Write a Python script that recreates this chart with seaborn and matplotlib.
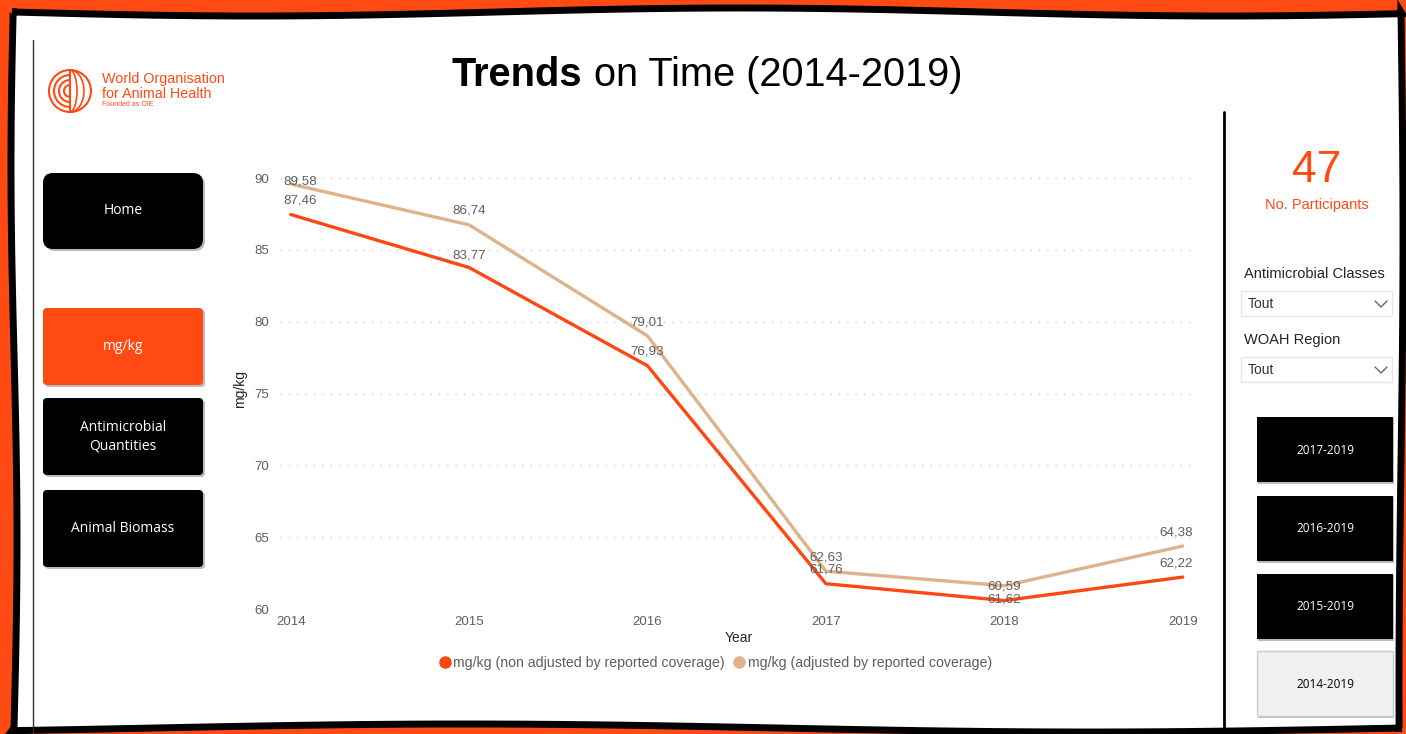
import numpy as np
import pandas as pd
import matplotlib.pyplot as plt
from matplotlib.patches import FancyBboxPatch, Circle, Arc, Polygon, Rectangle
from matplotlib.lines import Line2D
import seaborn as sns

years = [2014, 2015, 2016, 2017, 2018, 2019]
non_adjusted = [87.46, 83.77, 76.93, 61.76, 60.59, 62.22]
adjusted = [89.58, 86.74, 79.01, 62.63, 61.62, 64.38]
series_names = ['mg/kg (non adjusted by reported coverage)',
                'mg/kg (adjusted by reported coverage)']
participants = 47
left_buttons = ['Home', 'mg/kg', 'Antimicrobial\nQuantities', 'Animal Biomass']
right_buttons = ['2017-2019', '2016-2019', '2015-2019', '2014-2019']

RED = '#FF4713'
TAN = '#DDB38A'
ORANGE = '#FF4A14'
GREY = '#605E5C'

sns.set_theme(style='white')
plt.rcParams['font.family'] = ['Liberation Sans', 'DejaVu Sans']

df = pd.DataFrame({
    'Year': years * 2,
    'mg/kg': non_adjusted + adjusted,
    'series': [series_names[0]] * 6 + [series_names[1]] * 6,
})

fig = plt.figure(figsize=(14.06, 7.34), dpi=100)
fig.patch.set_facecolor(ORANGE)

# background layer in pixel coordinates
bg = fig.add_axes([0, 0, 1, 1], zorder=0)
bg.set_xlim(0, 1406)
bg.set_ylim(734, 0)
bg.axis('off')

# wavy white panel
t = np.linspace(0, 1, 120)
top = np.c_[12 + t * 1390, 12 + 4 * np.sin(t * 9)]
right = np.c_[1401 + 2 * np.sin(t * 5), 12 + t * 716]
bottom = np.c_[1402 - t * 1390, 728 + 4 * np.sin(t * 7)]
left = np.c_[14 + 3 * np.sin(t * 6), 728 - t * 716]
bg.add_patch(Polygon(np.vstack([top, right, bottom, left]), closed=True,
                     facecolor='white', edgecolor='black', lw=5, zorder=1))

bg.plot([33, 33], [40, 734], color='#333333', lw=1, zorder=2)
bg.plot([1224, 1224], [112, 734], color='black', lw=2, zorder=2)

# logo
bg.add_patch(Circle((70, 91), 21, fill=False, ec=ORANGE, lw=1.5, zorder=2))
for r in [6, 11, 16]:
    bg.add_patch(Arc((70, 91), 2 * r, 2 * r, theta1=90, theta2=270, ec=ORANGE, lw=1.5, zorder=2))
bg.plot([70, 70], [70, 112], color=ORANGE, lw=1.5, zorder=2)
bg.add_patch(Arc((70, 91), 14, 42, theta1=-90, theta2=90, ec=ORANGE, lw=1.2, zorder=2))
bg.add_patch(Arc((70, 91), 28, 42, theta1=-90, theta2=90, ec=ORANGE, lw=1.2, zorder=2))
bg.text(102, 79, 'World Organisation', color=ORANGE, fontsize=10.3, va='center', zorder=3)
bg.text(102, 94, 'for Animal Health', color=ORANGE, fontsize=10.3, va='center', zorder=3)
bg.text(102, 105, 'Founded as OIE', color=ORANGE, fontsize=5, va='center', zorder=3)

# title
bg.text(452, 75, 'Trends', fontsize=28.6, fontweight='bold', ha='left', va='center', color='black', zorder=3)
bg.text(594, 75, 'on Time (2014-2019)', fontsize=28.6, ha='left', va='center', color='black', zorder=3)

# left navigation buttons
lb_y = [173, 308, 398, 490]
lb_h = [76, 77, 77, 77]
lb_c = ['black', ORANGE, 'black', 'black']
lb_r = [10, 4, 4, 4]
for lab, y0, h, c, r in zip(left_buttons, lb_y, lb_h, lb_c, lb_r):
    bg.add_patch(FancyBboxPatch((45, y0 + 2), 160, h, boxstyle=f'round,pad=0,rounding_size={r}',
                                facecolor='#bbbbbb', edgecolor='none', zorder=2))
    bg.add_patch(FancyBboxPatch((43, y0), 160, h, boxstyle=f'round,pad=0,rounding_size={r}',
                                facecolor=c, edgecolor='none', zorder=3))
    bg.text(123, y0 + h / 2, lab, color='white', fontsize=10, ha='center', va='center',
            family=['Open Sans', 'DejaVu Sans'], linespacing=1.3, zorder=4)

# KPI
bg.text(1317, 171, str(participants), color=ORANGE, fontsize=32, ha='center', va='center', zorder=3)
bg.text(1317, 205, 'No. Participants', color=ORANGE, fontsize=10.5, ha='center', va='center', zorder=3)

# slicers
for lab, ty, by in [('Antimicrobial Classes', 274, 291), ('WOAH Region', 340, 357)]:
    bg.text(1244, ty, lab, color='#252423', fontsize=10.5, ha='left', va='center', zorder=3)
    bg.add_patch(Rectangle((1241, by), 151, 25, facecolor='white', edgecolor='#e6e6e6', lw=1, zorder=3))
    bg.text(1248, by + 13, 'Tout', color='#333333', fontsize=10, ha='left', va='center', zorder=4)
    bg.plot([1375, 1381, 1387], [by + 10, by + 16, by + 10], color='#666666', lw=1, zorder=4)

# right period buttons
rb_y = [417, 496, 574, 651]
rb_c = ['black', 'black', 'black', '#F0F0F0']
rb_t = ['white', 'white', 'white', 'black']
for lab, y0, c, tc in zip(right_buttons, rb_y, rb_c, rb_t):
    bg.add_patch(Rectangle((1258, y0 + 1), 136, 66, facecolor='#bbbbbb', edgecolor='none', zorder=2))
    bg.add_patch(Rectangle((1257, y0), 136, 65, facecolor=c, edgecolor='#cccccc' if c != 'black' else 'none',
                           lw=1, zorder=3))
    bg.text(1325, y0 + 33, lab, color=tc, fontsize=8.5, ha='center', va='center',
            family=['Open Sans', 'DejaVu Sans'], zorder=4)

# chart
ax = fig.add_axes([280 / 1406, 1 - 609 / 734, 917 / 1406, (609 - 169.4) / 734], zorder=1)
ax.patch.set_alpha(0)
sns.lineplot(data=df, x='Year', y='mg/kg', hue='series', palette=[RED, TAN],
             hue_order=series_names, linewidth=2.4, ax=ax, legend=False)
ax.set_xlim(2014 - 0.06, 2019 + 0.08)
ax.set_ylim(60, 90.6)
ax.set_xticks(years)
ax.set_yticks(range(60, 91, 5))
ax.tick_params(axis='both', length=0, labelsize=9.5, labelcolor=GREY)
ax.tick_params(axis='y', pad=8)
ax.tick_params(axis='x', pad=5)
for y in range(60, 91, 5):
    ax.axhline(y, color='#d0d0d0', lw=1, ls=(0, (1, 5)), zorder=0)
sns.despine(ax=ax, left=True, bottom=True)
ax.set_xlabel('Year', fontsize=10, color='#252423', labelpad=2)
ax.set_ylabel('mg/kg', fontsize=10, color='#252423', labelpad=5)

# data labels (offsets in points)
off_red = [(7, 10), (0, 9), (0, 10), (0, 10), (0, 10), (-5, 10)]
off_tan = [(7, 2), (0, 10), (0, 10), (0, 10), (0, -10), (-5, 10)]
for vals, offs in [(non_adjusted, off_red), (adjusted, off_tan)]:
    for x, v, o in zip(years, vals, offs):
        ax.annotate(f'{v:.2f}'.replace('.', ','), (x, v), xytext=o, textcoords='offset points',
                    ha='center', va='center', fontsize=9.6, color=GREY, zorder=5)

handles = [Line2D([], [], marker='o', ls='none', color=c, markersize=8) for c in [RED, TAN]]
fig.legend(handles, series_names, loc='center', bbox_to_anchor=(714 / 1406, 1 - 663 / 734),
           ncol=2, frameon=False, fontsize=10.2, labelcolor=GREY, handletextpad=0.0,
           columnspacing=0.4, handlelength=1.2)

fig.savefig('out.png', dpi=100, facecolor=fig.get_facecolor())
